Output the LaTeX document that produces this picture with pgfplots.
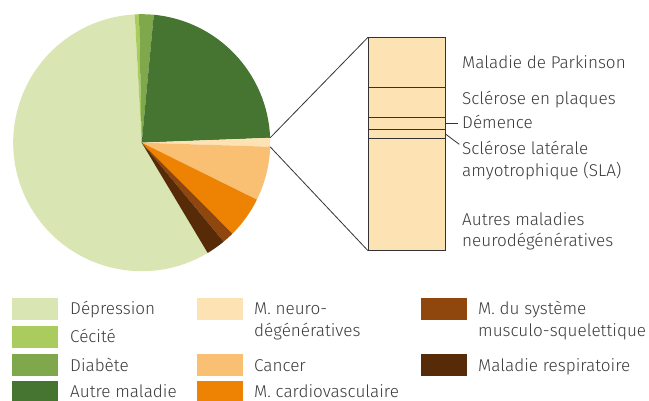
\documentclass[border=0pt]{standalone}
\usepackage{fontspec}
\setmainfont{Fira Sans Light}
\usepackage{pgfplots}
\usepackage{pgfplotstable}
\pgfplotsset{compat=1.18}
\definecolor{cDep}{HTML}{D9E6B3}
\definecolor{cCec}{HTML}{AACB5D}
\definecolor{cDia}{HTML}{7FA74B}
\definecolor{cAut}{HTML}{467431}
\definecolor{cNeu}{HTML}{FDE2B3}
\definecolor{cCan}{HTML}{F9BF73}
\definecolor{cCar}{HTML}{EE8202}
\definecolor{cMus}{HTML}{8F470E}
\definecolor{cRes}{HTML}{572A08}
\definecolor{txt}{HTML}{3A3A3A}
\definecolor{ln}{HTML}{333333}

\pgfplotstableread{
name value col
Depression 57.72 cDep
Cecite 0.53 cCec
Diabete 1.83 cDia
Autre 22.90 cAut
Neuro 1.11 cNeu
Cancer 6.80 cCan
Cardio 5.22 cCar
Musculo 1.47 cMus
Respiratoire 2.42 cRes
}\pietable

\newcommand\fs{\fontsize{17.1bp}{21bp}\selectfont}
\newcommand\lab[3]{\node[anchor=base west, inner sep=0pt, text=txt, font=\fs] at (#1bp,401bp-#2bp) {#3};}
\newcommand\sw[3]{\fill[#3] (#1bp,401bp-#2bp+11bp) rectangle ++(46bp,-22bp);}

\begin{document}
\begin{tikzpicture}
\useasboundingbox (0,0) rectangle (649bp,401bp);
% pie
\begin{axis}[hide axis, scale only axis, width=257bp, height=257bp,
  xmin=-1, xmax=1, ymin=-1, ymax=1, clip=false,
  at={(141.7bp,258.3bp)}, anchor=center]
\pgfplotsextra{
  \gdef\cum{0}
  \foreach \i in {0,...,8}{
    \pgfplotstablegetelem{\i}{value}\of\pietable \let\pv\pgfplotsretval
    \pgfplotstablegetelem{\i}{col}\of\pietable \let\pc\pgfplotsretval
    \pgfmathsetmacro\pa{-59.1-3.6*\cum}
    \pgfmathsetmacro\pb{\pa-3.6*\pv}
    \fill[fill=\pc] (axis cs:0,0) -- (axis cs:{cos(\pa)},{sin(\pa)}) arc[start angle=\pa, end angle=\pb, radius=128.5bp] -- cycle;
    \ifnum\i=4
      \coordinate (n1) at (axis cs:{cos(\pa)},{sin(\pa)});
      \coordinate (n2) at (axis cs:{cos(\pb)},{sin(\pb)});
    \fi
    \pgfmathsetmacro\cumn{\cum+\pv}\xdef\cum{\cumn}
  }
}
\end{axis}
% bar of pie
\begin{axis}[hide axis, scale only axis, width=77bp, height=213.4bp,
  xmin=-0.5, xmax=0.5, ymin=0, ymax=100, clip=false,
  ybar stacked, bar width=77bp,
  at={(368bp,150.3bp)}, anchor=south west]
\addplot[fill=cNeu, draw=ln, line width=0.9bp] coordinates {(0,52.8)};
\addplot[fill=cNeu, draw=ln, line width=0.9bp] coordinates {(0,4.1)};
\addplot[fill=cNeu, draw=ln, line width=0.9bp] coordinates {(0,5.6)};
\addplot[fill=cNeu, draw=ln, line width=0.9bp] coordinates {(0,13.9)};
\addplot[fill=cNeu, draw=ln, line width=0.9bp] coordinates {(0,23.6)};
\coordinate (btl) at (axis cs:-0.5,100);
\coordinate (bbl) at (axis cs:-0.5,0);
\coordinate (dem) at (axis cs:0.5,59.7);
\coordinate (sla) at (axis cs:0.5,54.85);
\end{axis}
\draw[ln, line width=0.8bp] (dem) -- ++(13bp,0bp);
\draw[ln, line width=0.8bp] (sla) -- ++(14.3bp,-10.7bp);
\draw[ln, line width=0.8bp] (n1) -- (btl);
\draw[ln, line width=0.8bp] (n2) -- (bbl);
% right labels
\lab{462}{68.3}{Maladie de Parkinson}
\lab{462}{105}{Sclérose en plaques}
\lab{462}{129}{Démence}
\lab{462}{155}{Sclérose latérale}
\lab{462}{176.7}{amyotrophique (SLA)}
\lab{462}{226}{Autres maladies}
\lab{462}{246.7}{neurodégénératives}
% legend
\sw{12}{309}{cDep}\lab{70}{315}{Dépression}
\sw{12}{337}{cCec}\lab{70}{343}{Cécité}
\sw{12}{365}{cDia}\lab{70}{371}{Diabète}
\sw{12}{392.5}{cAut}\lab{70}{397.5}{Autre maladie}
\sw{197}{309}{cNeu}\lab{254}{315}{M. neuro-}\lab{254}{337}{dégénératives}
\sw{197}{365}{cCan}\lab{254}{371}{Cancer}
\sw{197}{392.5}{cCar}\lab{254}{397.5}{M. cardiovasculaire}
\sw{421}{309}{cMus}\lab{478}{315}{M. du système}\lab{478}{337}{musculo-squelettique}
\sw{421}{365}{cRes}\lab{478}{371}{Maladie respiratoire}
\end{tikzpicture}
\end{document}
